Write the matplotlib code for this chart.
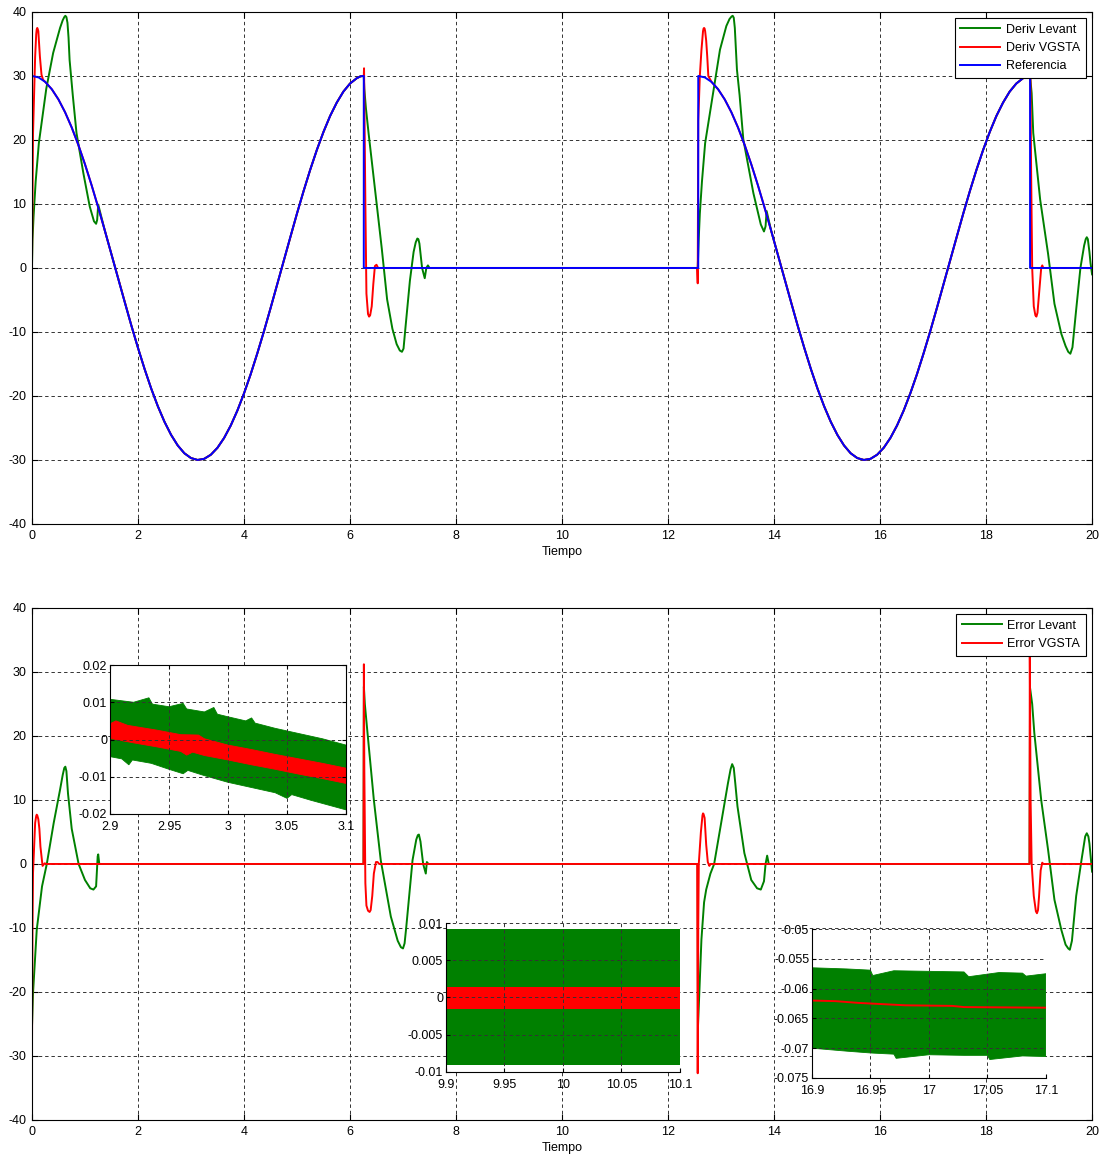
import numpy as np
import matplotlib.pyplot as plt
from matplotlib.ticker import FormatStrFormatter

plt.rcParams['font.family'] = ['Liberation Sans', 'DejaVu Sans']
plt.rcParams['font.size'] = 9
plt.rcParams['axes.unicode_minus'] = False

VERDE = '#008000'
ROJO = '#ff0000'
AZUL = '#0000ff'

# =====================
# DATOS
# =====================

# Referencia: un tramo activo (coseno de amplitud 30), luego cero
ref_t = [0.0, 0.125, 0.25, 0.375, 0.5, 0.625, 0.75, 0.875, 1.0, 1.125, 1.25, 1.375,
         1.5, 1.625, 1.75, 1.875, 2.0, 2.125, 2.25, 2.375, 2.5, 2.625, 2.75, 2.875,
         3.0, 3.125, 3.25, 3.375, 3.5, 3.625, 3.75, 3.875, 4.0, 4.125, 4.25, 4.375,
         4.5, 4.625, 4.75, 4.875, 5.0, 5.125, 5.25, 5.375, 5.5, 5.625, 5.75, 5.875,
         6.0, 6.125, 6.2, 6.26]
ref_v = [30.00, 29.77, 29.07, 27.92, 26.33, 24.33, 21.95, 19.23, 16.21, 12.94, 9.46,
         5.84, 2.12, -1.62, -5.35, -8.99, -12.48, -15.79, -18.85, -21.61, -24.03,
         -26.08, -27.73, -28.95, -29.70, -30.00, -29.82, -29.18, -28.09, -26.56,
         -24.62, -22.29, -19.61, -16.63, -13.38, -9.94, -6.32, -2.61, 1.13, 4.85,
         8.51, 12.03, 15.36, 18.45, 21.26, 23.75, 25.83, 27.55, 28.81, 29.63, 29.95,
         30.00]
inicio_tramos = [0.0, 12.57]
t_final = 20.0

# Derivada Levant (transitorios)
dl1_t = [0.0, 0.01, 0.03, 0.07, 0.13, 0.27, 0.40, 0.53, 0.58, 0.61, 0.63, 0.65, 0.67,
         0.69, 0.71, 0.77, 0.84, 0.97, 1.09, 1.17, 1.21, 1.23, 1.25]
dl1_v = [0.0, 4.4, 8.0, 13.5, 19.5, 28.0, 33.6, 37.5, 38.7, 39.2, 39.4, 39.2, 38.3,
         36.0, 32.5, 27.0, 21.1, 14.8, 9.6, 7.3, 6.9, 7.5, 9.9]
dl2_t = [6.26, 6.27, 6.30, 6.35, 6.50, 6.60, 6.70, 6.80, 6.88, 6.94, 6.98, 7.01,
         7.05, 7.13, 7.20, 7.24, 7.27, 7.29, 7.31, 7.36, 7.41, 7.44, 7.47, 7.50]
dl2_v = [30.0, 28.0, 25.0, 21.1, 10.2, 3.0, -4.9, -9.5, -11.9, -12.9, -13.1, -12.6,
         -9.0, -2.0, 2.5, 4.0, 4.6, 4.5, 3.8, 0.0, -1.6, 0.0, 0.4, 0.0]
dl3_t = [12.56, 12.58, 12.60, 12.64, 12.70, 12.86, 12.98, 13.10, 13.16, 13.20, 13.22,
         13.24, 13.26, 13.28, 13.30, 13.35, 13.42, 13.61, 13.75, 13.81, 13.84, 13.86]
dl3_v = [0.0, 4.7, 8.5, 13.5, 19.5, 27.9, 34.1, 37.8, 38.9, 39.3, 39.4, 39.1, 37.5,
         34.1, 31.0, 27.0, 20.1, 11.7, 6.8, 5.7, 6.5, 8.9]
dl4_t = [18.83, 18.86, 18.89, 19.02, 19.17, 19.29, 19.42, 19.50, 19.55, 19.59, 19.63,
         19.70, 19.78, 19.85, 19.88, 19.90, 19.92, 19.95, 19.97, 20.0]
dl4_v = [30.0, 27.3, 21.1, 10.7, 2.2, -5.6, -10.3, -12.2, -13.1, -13.4, -12.4, -6.5,
         0.0, 3.5, 4.5, 4.8, 4.5, 2.5, 0.8, -1.0]

# Derivada VGSTA (transitorios)
dv1_t = [0.0, 0.01, 0.02, 0.04, 0.06, 0.08, 0.09, 0.10, 0.11, 0.12, 0.15, 0.18, 0.21]
dv1_v = [0.0, 10.0, 21.0, 27.0, 33.0, 36.5, 37.3, 37.5, 37.3, 37.0, 33.0, 30.2, 29.4]
dv2_t = [6.26, 6.265, 6.29, 6.31, 6.34, 6.36, 6.38, 6.41, 6.44, 6.47, 6.50, 6.53]
dv2_v = [30.0, 31.2, 10.0, -4.0, -7.2, -7.6, -7.4, -6.0, -2.5, 0.3, 0.5, 0.0]
dv3_t = [12.55, 12.56, 12.57, 12.60, 12.63, 12.66, 12.67, 12.68, 12.69, 12.70, 12.72,
         12.74, 12.76]
dv3_v = [0.0, -2.4, 23.0, 30.0, 34.0, 37.0, 37.4, 37.5, 37.4, 37.0, 35.5, 33.0, 30.0]
dv4_t = [18.83, 18.835, 18.85, 18.87, 18.90, 18.93, 18.95, 18.97, 19.01, 19.04, 19.06,
         19.08, 20.0]
dv4_v = [30.0, 31.5, 15.0, 0.0, -6.0, -7.4, -7.6, -7.0, -3.0, 0.0, 0.4, 0.0, 0.0]

# Error Levant
el1_t = [0.0, 0.02, 0.09, 0.19, 0.28, 0.41, 0.53, 0.58, 0.61, 0.63, 0.65, 0.68, 0.75,
         0.88, 1.00, 1.10, 1.16, 1.21, 1.24, 1.25, 1.27]
el1_v = [-25.6, -20.2, -10.3, -3.5, 0.0, 6.4, 11.6, 13.9, 15.0, 15.2, 14.5, 11.0, 5.5,
         0.0, -2.5, -3.8, -4.0, -3.5, 1.2, 1.5, 0.0]
el2_t = [6.255, 6.262, 6.28, 6.33, 6.45, 6.58, 6.77, 6.90, 6.96, 7.00, 7.03, 7.06,
         7.18, 7.25, 7.28, 7.30, 7.33, 7.38, 7.43, 7.45, 7.48]
el2_v = [0.0, 27.7, 25.0, 20.5, 10.0, 0.6, -8.2, -12.0, -13.0, -13.2, -12.4, -10.0,
         0.6, 3.8, 4.5, 4.6, 3.5, 0.0, -1.5, 0.3, 0.0]
el3_t = [12.56, 12.565, 12.58, 12.63, 12.68, 12.72, 12.80, 12.87, 13.00, 13.13, 13.18,
         13.21, 13.24, 13.27, 13.31, 13.44, 13.57, 13.68, 13.75, 13.81, 13.84, 13.87,
         13.90]
el3_v = [0.0, -25.4, -22.3, -11.8, -6.0, -4.0, -1.5, 0.0, 6.3, 12.6, 14.8, 15.6, 15.0,
         12.5, 9.0, 1.7, -2.5, -3.8, -4.0, -2.7, 0.0, 1.3, 0.0]
el4_t = [18.82, 18.83, 18.87, 18.91, 19.04, 19.17, 19.29, 19.42, 19.50, 19.55, 19.58,
         19.62, 19.70, 19.80, 19.87, 19.90, 19.93, 19.95, 20.0]
el4_v = [0.0, 27.5, 25.0, 20.5, 10.0, 2.2, -5.6, -10.3, -12.6, -13.2, -13.4, -12.0,
         -5.0, 0.6, 4.3, 4.8, 4.3, 3.2, -1.2]

# Error VGSTA
ev1_t = [0.0, 0.005, 0.01, 0.02, 0.06, 0.08, 0.09, 0.10, 0.12, 0.14, 0.16, 0.20, 0.24,
         0.27]
ev1_v = [-30.0, -20.0, -10.0, -1.4, 6.4, 7.5, 7.7, 7.6, 7.0, 5.5, 2.7, -0.3, 0.1, 0.0]
ev2_t = [6.25, 6.255, 6.262, 6.27, 6.29, 6.31, 6.34, 6.37, 6.39, 6.42, 6.45, 6.49,
         6.52, 6.55]
ev2_v = [0.0, 0.3, 31.2, 15.0, -3.0, -6.5, -7.3, -7.5, -7.2, -5.0, -1.5, 0.3, 0.3, 0.0]
ev3_t = [12.55, 12.56, 12.57, 12.58, 12.62, 12.65, 12.66, 12.67, 12.69, 12.72, 12.75,
         12.78, 12.80]
ev3_v = [0.0, -32.7, -10.0, 0.0, 5.0, 7.6, 7.9, 7.8, 7.2, 3.0, 0.3, -0.3, 0.0]
ev4_t = [18.82, 18.825, 18.84, 18.86, 18.90, 18.94, 18.96, 18.98, 19.00, 19.03, 19.06,
         19.08, 20.0]
ev4_v = [0.0, 33.0, 10.0, 0.0, -5.0, -7.4, -7.7, -7.2, -5.0, -1.0, 0.2, 0.0, 0.0]

# Zoom 1 (2.9 - 3.1): bandas de ruido
z1_gsup_t = [2.900, 2.910, 2.920, 2.933, 2.936, 2.950, 2.962, 2.965, 2.980, 2.988,
             2.991, 3.000, 3.015, 3.020, 3.023, 3.040, 3.060, 3.080, 3.100]
z1_gsup_v = [0.0108, 0.0104, 0.0100, 0.0112, 0.0095, 0.0088, 0.0097, 0.0082, 0.0074,
             0.0086, 0.0068, 0.0061, 0.0050, 0.0058, 0.0044, 0.0030, 0.0016, 0.0002,
             -0.0015]
z1_ginf_t = [2.900, 2.910, 2.916, 2.919, 2.935, 2.950, 2.962, 2.966, 2.980, 3.000,
             3.020, 3.040, 3.050, 3.054, 3.070, 3.085, 3.100]
z1_ginf_v = [-0.0046, -0.0052, -0.0068, -0.0055, -0.0064, -0.0080, -0.0092, -0.0083,
             -0.0097, -0.0115, -0.0129, -0.0143, -0.0158, -0.0148, -0.0163, -0.0176,
             -0.0189]
z1_rsup_t = [2.900, 2.905, 2.915, 2.940, 2.960, 2.975, 2.980, 3.000, 3.020, 3.040,
             3.060, 3.080, 3.100]
z1_rsup_v = [0.0042, 0.0050, 0.0038, 0.0025, 0.0013, 0.0012, 0.0002, -0.0015, -0.0027,
             -0.0040, -0.0052, -0.0064, -0.0077]
z1_rinf_t = [2.900, 2.920, 2.940, 2.960, 2.965, 2.970, 2.980, 3.000, 3.020, 3.040,
             3.060, 3.080, 3.100]
z1_rinf_v = [0.0003, -0.0009, -0.0020, -0.0032, -0.0042, -0.0034, -0.0043, -0.0055,
             -0.0068, -0.0080, -0.0093, -0.0105, -0.0118]

# Zoom 2 (9.9 - 10.1)
z2_t = [9.9, 10.1]
z2_gsup = [0.0092, 0.0092]
z2_ginf = [-0.0091, -0.0091]
z2_rsup = [0.0014, 0.0014]
z2_rinf = [-0.0016, -0.0016]

# Zoom 3 (16.9 - 17.1)
z3_gsup_t = [16.90, 16.93, 16.95, 16.952, 16.97, 17.00, 17.03, 17.034, 17.06, 17.08,
             17.083, 17.10]
z3_gsup_v = [-0.0565, -0.0567, -0.0569, -0.0578, -0.0570, -0.0571, -0.0572, -0.0580,
             -0.0573, -0.0574, -0.0579, -0.0575]
z3_ginf_t = [16.90, 16.93, 16.95, 16.97, 16.972, 17.00, 17.03, 17.05, 17.052, 17.08,
             17.10]
z3_ginf_v = [-0.0700, -0.0705, -0.0708, -0.0710, -0.0717, -0.0711, -0.0712, -0.0712,
             -0.0719, -0.0713, -0.0714]
z3_r_t = [16.90, 16.92, 16.94, 16.96, 16.98, 17.02, 17.03, 17.10]
z3_r_v = [-0.0620, -0.0621, -0.0624, -0.0626, -0.0628, -0.0629, -0.0631, -0.0632]


# =====================
# SEÑALES COMPLETAS
# =====================

def ref_tramo(c, a, b):
    # puntos de la referencia del tramo que empieza en c, entre c+a y c+b
    t = [c + x for x in ref_t if a < x < b]
    v = [y for x, y in zip(ref_t, ref_v) if a < x < b]
    return t, v


def unir(*tramos):
    t = np.concatenate([np.asarray(p[0], float) for p in tramos])
    v = np.concatenate([np.asarray(p[1], float) for p in tramos])
    return t, v


c1, c2 = inicio_tramos
T = ref_t[-1]

ref_T, ref_V = unir(
    ([c1 + x for x in ref_t], ref_v),
    ([c1 + T, c2], [0.0, 0.0]),
    ([c2 + x for x in ref_t], ref_v),
    ([c2 + T, t_final], [0.0, 0.0]),
)

dl_T, dl_V = unir(
    (dl1_t, dl1_v),
    ref_tramo(c1, dl1_t[-1] - c1, T),
    (dl2_t, dl2_v),
    (dl3_t, dl3_v),
    ref_tramo(c2, dl3_t[-1] - c2, T),
    (dl4_t, dl4_v),
)

dv_T, dv_V = unir(
    (dv1_t, dv1_v),
    ref_tramo(c1, dv1_t[-1] - c1, T),
    (dv2_t, dv2_v),
    (dv3_t, dv3_v),
    ref_tramo(c2, dv3_t[-1] - c2, T),
    (dv4_t, dv4_v),
)

el_T, el_V = unir((el1_t, el1_v), (el2_t, el2_v), (el3_t, el3_v), (el4_t, el4_v))
ev_T, ev_V = unir((ev1_t, ev1_v), (ev2_t, ev2_v), (ev3_t, ev3_v), (ev4_t, ev4_v))


# =====================
# FIGURA
# =====================

fig = plt.figure(figsize=(11.02, 11.6), dpi=100)
ax1 = fig.add_axes([0.029, 0.5483, 0.962, 0.4414])
ax2 = fig.add_axes([0.029, 0.0345, 0.962, 0.4414])

GRID = dict(color='#333333', linestyle=(0, (3.5, 3)), linewidth=0.7)


def estilo(ax):
    ax.set_xlim(0, 20)
    ax.set_ylim(-40, 40)
    ax.set_xticks(np.arange(0, 21, 2))
    ax.set_yticks(np.arange(-40, 41, 10))
    ax.grid(True, **GRID)
    ax.tick_params(direction='in', top=True, right=True, length=4, width=0.8, pad=4,
                   colors='k')
    ax.set_xlabel('Tiempo', labelpad=3)
    for s in ax.spines.values():
        s.set_linewidth(0.8)


def leyenda(ax):
    leg = ax.legend(loc='upper right', fancybox=False, edgecolor='k', framealpha=1,
                    borderaxespad=0.5, handlelength=3.2, handletextpad=0.45,
                    labelspacing=0.5, borderpad=0.45)
    leg.get_frame().set_linewidth(0.8)


# Derivadas
ax1.plot(dl_T, dl_V, color=VERDE, lw=1.4, label='Deriv Levant')
ax1.plot(dv_T, dv_V, color=ROJO, lw=1.4, label='Deriv VGSTA')
ax1.plot(ref_T, ref_V, color=AZUL, lw=1.4, label='Referencia')
estilo(ax1)
leyenda(ax1)

# Errores
ax2.plot(el_T, el_V, color=VERDE, lw=1.4, label='Error Levant')
ax2.plot(ev_T, ev_V, color=ROJO, lw=1.4, label='Error VGSTA')
estilo(ax2)
leyenda(ax2)


def recuadro(rect, xlim, ylim, xt, yt, caja=True):
    ax = fig.add_axes(rect)
    ax.set_facecolor('white')
    ax.set_xlim(xlim)
    ax.set_ylim(ylim)
    ax.set_xticks(xt)
    ax.set_yticks(yt)
    ax.xaxis.set_major_formatter(FormatStrFormatter('%g'))
    ax.yaxis.set_major_formatter(FormatStrFormatter('%g'))
    ax.grid(True, **GRID)
    ax.tick_params(direction='in', length=3, width=0.8, pad=2, colors='k',
                   top=caja, right=caja)
    ax.tick_params(axis='x', pad=5)
    for s in ax.spines.values():
        s.set_linewidth(0.8)
    if not caja:
        ax.spines['top'].set_visible(False)
        ax.spines['right'].set_visible(False)
    return ax


def banda(ax, ts, vs, ti, vi, color):
    x = list(ts) + list(ti)[::-1]
    y = list(vs) + list(vi)[::-1]
    ax.fill(x, y, color=color, lw=0.6)


# Zoom 1
z1 = recuadro([0.0998, 0.2983, 0.2142, 0.1284], (2.9, 3.1), (-0.02, 0.02),
              [2.9, 2.95, 3.0, 3.05, 3.1], [-0.02, -0.01, 0, 0.01, 0.02])
banda(z1, z1_gsup_t, z1_gsup_v, z1_ginf_t, z1_ginf_v, VERDE)
banda(z1, z1_rsup_t, z1_rsup_v, z1_rinf_t, z1_rinf_v, ROJO)

# Zoom 2
z2 = recuadro([0.4047, 0.0759, 0.2123, 0.1284], (9.9, 10.1), (-0.01, 0.01),
              [9.9, 9.95, 10.0, 10.05, 10.1], [-0.01, -0.005, 0, 0.005, 0.01], caja=False)
z2.fill_between(z2_t, z2_ginf, z2_gsup, color=VERDE, lw=0)
z2.fill_between(z2_t, z2_rinf, z2_rsup, color=ROJO, lw=0)

# Zoom 3
z3 = recuadro([0.7368, 0.0707, 0.2123, 0.1284], (16.9, 17.1), (-0.075, -0.05),
              [16.9, 16.95, 17.0, 17.05, 17.1],
              [-0.075, -0.07, -0.065, -0.06, -0.055, -0.05], caja=False)
banda(z3, z3_gsup_t, z3_gsup_v, z3_ginf_t, z3_ginf_v, VERDE)
z3.plot(z3_r_t, z3_r_v, color=ROJO, lw=1.4)

fig.savefig('out.png', dpi=100)
